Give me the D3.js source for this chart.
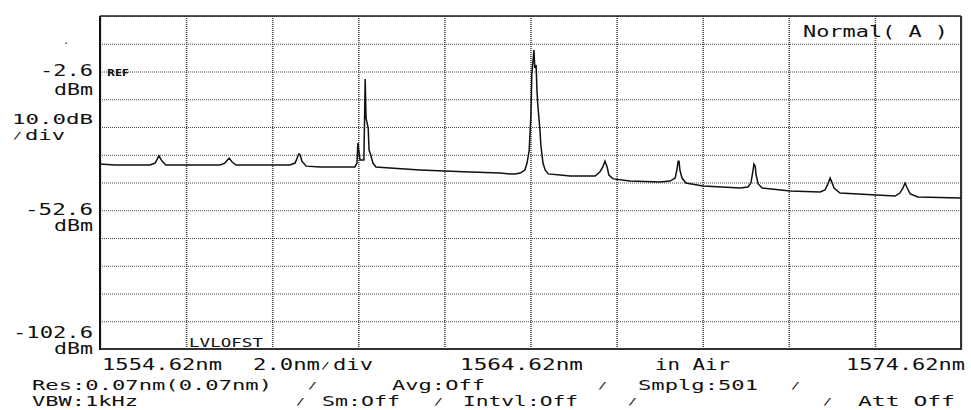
<!DOCTYPE html>
<html>
<head>
<meta charset="utf-8">
<script src="https://cdn.jsdelivr.net/npm/d3@7"></script>
<style>
  body { margin: 0; background: #fff; }
  svg { display: block; }
  text { font-family: 'DejaVu Sans Mono', monospace; fill: #111; }
  .grid line { stroke: #444; stroke-dasharray: 1,1; }
  .grid path { display: none; }
</style>
</head>
<body>
<svg width="971" height="410">
  <g class="grid xgrid"></g>
  <g class="grid ygrid"></g>
  <g class="vis"></g>
  <g class="labels"></g>
</svg>
<script>
// wavelength (nm) / level (dBm)
const trace = [
  [1554.62, -35.9], [1554.97, -36.3], [1555.78, -36.3], [1555.90, -35.6], [1555.99, -33.0],
  [1556.06, -34.9], [1556.15, -36.3], [1557.41, -36.3], [1557.52, -35.6], [1557.62, -33.8],
  [1557.69, -35.2], [1557.78, -36.3], [1559.03, -36.3], [1559.15, -35.6], [1559.24, -32.3],
  [1559.27, -32.7], [1559.31, -34.9], [1559.41, -36.7], [1559.73, -37.0], [1560.54, -37.0],
  [1560.59, -35.6], [1560.61, -28.4], [1560.66, -34.5], [1560.75, -34.5], [1560.78, -5.3],
  [1560.80, -19.4], [1560.85, -23.0], [1560.87, -30.9], [1560.91, -32.7], [1560.96, -35.6],
  [1561.03, -37.0], [1561.36, -37.4], [1562.05, -38.1], [1562.63, -38.5], [1563.22, -38.8],
  [1563.91, -39.2], [1564.14, -39.5], [1564.26, -39.5], [1564.38, -39.2], [1564.49, -38.1],
  [1564.54, -35.6], [1564.59, -30.9], [1564.63, -18.3], [1564.65, -3.9], [1564.68, 1.5],
  [1564.70, 5.1], [1564.72, -1.3], [1564.75, -0.3], [1564.77, -9.3], [1564.79, -14.7],
  [1564.84, -23.7], [1564.86, -29.1], [1564.91, -35.6], [1564.96, -38.1], [1565.03, -39.5],
  [1565.31, -39.9], [1565.54, -40.3], [1566.12, -40.3], [1566.23, -38.8], [1566.30, -37.0],
  [1566.35, -34.9], [1566.40, -37.0], [1566.44, -39.9], [1566.54, -41.3], [1566.93, -42.1],
  [1567.63, -42.4], [1567.86, -42.1], [1567.98, -41.0], [1568.02, -38.1], [1568.05, -34.9],
  [1568.07, -34.9], [1568.09, -38.1], [1568.14, -41.0], [1568.23, -42.8], [1568.63, -43.9],
  [1569.49, -44.6], [1569.67, -44.2], [1569.74, -42.8], [1569.79, -38.1], [1569.81, -35.9],
  [1569.84, -36.7], [1569.86, -39.9], [1569.91, -43.1], [1570.00, -44.6], [1570.65, -45.7],
  [1571.35, -46.0], [1571.46, -45.3], [1571.53, -43.1], [1571.58, -41.0], [1571.62, -42.4],
  [1571.67, -44.6], [1571.81, -46.4], [1572.65, -47.1], [1573.09, -47.5], [1573.20, -46.4],
  [1573.27, -44.6], [1573.32, -42.8], [1573.37, -44.6], [1573.44, -46.7], [1573.62, -47.8],
  [1574.62, -48.2]
]

const xTicks = [1554.62, 1556.62, 1558.62, 1560.62, 1562.62, 1564.62, 1566.62, 1568.62, 1570.62, 1572.62, 1574.62]
const yTicks = [17.4, 7.4, -2.6, -12.6, -22.6, -32.6, -42.6, -52.6, -62.6, -72.6, -82.6, -92.6, -102.6]

// left scale labels: level in dBm and its text
const levelValues = [-2.6, -52.6, -102.6]
const levelTexts = ['-2.6', '-52.6', '-102.6']
const levelUnit = 'dBm'
const scaleLabel = ['10.0dB', 'div']
const xLabels = ['1554.62nm', '2.0nm', 'div', '1564.62nm', 'in Air', '1574.62nm']
const statusRow1 = ['Res:0.07nm(0.07nm)', 'Avg:Off', 'Smplg:501']
const statusRow2 = ['VBW:1kHz', 'Sm:Off', 'Intvl:Off', 'Att Off']
const modeLabel = 'Normal( A )'

function render() {
    const svg = d3.select('svg')
    const vis = svg.select('g.vis')
    const labels = svg.select('g.labels')
    const left = 100, right = 961, top = 16, bottom = 349

    const xScale = d3.scaleLinear()
        .domain([1554.62, 1574.62])
        .range([left, right])
    const yScale = d3.scaleLinear()
        .domain([-102.6, 17.4])
        .range([bottom, top])

    // dotted grid
    svg.select('g.xgrid')
        .attr('transform', `translate(0,${bottom})`)
        .call(d3.axisBottom(xScale).tickValues(xTicks).tickSize(-(bottom - top)).tickFormat(''))
        .selectAll('line').style('stroke-width', 1.6)
    svg.select('g.ygrid')
        .attr('transform', `translate(${left},0)`)
        .call(d3.axisLeft(yScale).tickValues(yTicks).tickSize(-(right - left)).tickFormat(''))
        .selectAll('line').style('stroke-width', 1)

    // frame
    vis.append('line').attr('x1', left).attr('x2', right).attr('y1', top).attr('y2', top)
        .style('stroke', '#222').style('stroke-width', 1.5)
    vis.append('line').attr('x1', left).attr('x2', right).attr('y1', bottom).attr('y2', bottom)
        .style('stroke', '#333').style('stroke-width', 2)
    vis.append('line').attr('x1', left).attr('x2', left).attr('y1', top).attr('y2', bottom + 1)
        .style('stroke', '#111').style('stroke-width', 2)
    vis.append('line').attr('x1', right).attr('x2', right).attr('y1', top).attr('y2', bottom + 1)
        .style('stroke', '#333').style('stroke-width', 2)

    const line = d3.line()
        .x(d => xScale(d[0]))
        .y(d => yScale(d[1]))
    vis.append('path')
        .datum(trace)
        .attr('d', line)
        .style('fill', 'none')
        .style('stroke', '#111')
        .style('stroke-width', 1.5)

    function label(t, x, y, w, opts) {
        opts = opts || {}
        const el = labels.append('text')
            .attr('x', x)
            .attr('y', y)
            .attr('text-anchor', opts.anchor || 'start')
            .style('font-size', (opts.size || 15) + 'px')
            .text(t)
        if (w) el.attr('textLength', w).attr('lengthAdjust', 'spacingAndGlyphs')
        if (opts.bold) el.style('font-weight', 'bold').style('font-family', 'DejaVu Sans')
        return el
    }
    function slash(x, y) {
        label('/', x, y, 9, { size: 9 })
    }
    const tight = { size: 13.5 }

    // left labels; the lowest one sits above its line
    const lw = [53, 68, 80]
    const dy = [[4, 23], [5, 21], [-11, 5]]
    levelValues.forEach(function (v, i) {
        label(levelTexts[i], 93, yScale(v) + dy[i][0], lw[i], { anchor: 'end' })
        label(levelUnit, 93, yScale(v) + dy[i][1], 39, { anchor: 'end' })
    })
    label(scaleLabel[0], 93, 124, 81, { anchor: 'end', size: 13.5 })
    slash(13, 139)
    label(scaleLabel[1], 25, 140, 40, tight)
    label('.', 63, 44, 0, { size: 10 })
    label('REF', 107, yScale(-2.6) + 4, 22, { size: 8, bold: true })
    label('LVLOFST', 189, 347, 74, { size: 12 })
    label(modeLabel, 803, 37, 145)

    // x labels under the frame
    label(xLabels[0], 102, 370, 120)
    label(xLabels[1], 253, 370, 67)
    slash(321, 369)
    label(xLabels[2], 333, 370, 40)
    label(xLabels[3], 460, 370, 123)
    label(xLabels[4], 655, 370, 75)
    label(xLabels[5], 965, 370, 119, { anchor: 'end' })

    // status lines
    label(statusRow1[0], 32, 390, 240, tight)
    slash(308, 389)
    label(statusRow1[1], 392, 390, 93, tight)
    slash(598, 389)
    label(statusRow1[2], 638, 390, 120, tight)
    slash(791, 389)

    label(statusRow2[0], 32, 406, 106, tight)
    slash(296, 405)
    label(statusRow2[1], 322, 406, 78, tight)
    slash(434, 405)
    label(statusRow2[2], 463, 406, 115, tight)
    slash(628, 405)
    slash(823, 405)
    label(statusRow2[3], 858, 406, 97, tight)
}

render()
</script>
</body>
</html>
